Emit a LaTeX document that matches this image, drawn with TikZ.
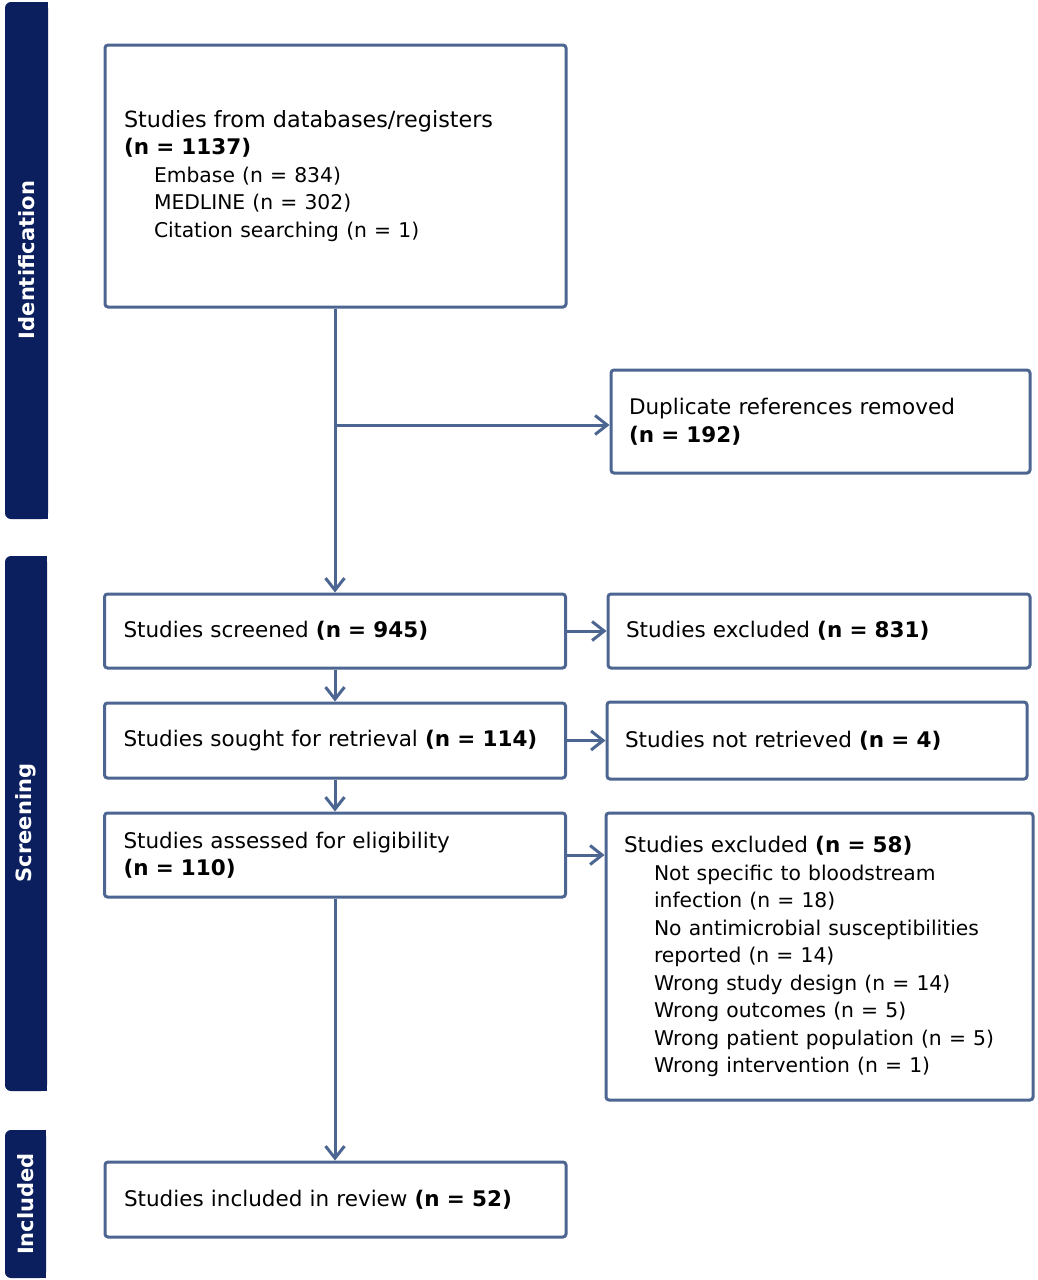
\documentclass[tikz,border=0pt]{standalone}
\usepackage{fontspec}
\setmainfont{DejaVu Sans}
\usetikzlibrary{arrows.meta,calc}
\definecolor{navy}{HTML}{0B1F5E}
\definecolor{boxc}{HTML}{4D6691}
\newcommand{\hdsz}{\fontsize{21.5}{27.5}\selectfont}
\newcommand{\subsz}{\fontsize{20.3}{27.5}\selectfont}
\newcommand{\mysubline}[1]{{\subsz\hspace*{30pt}#1}}
\begin{document}
\begin{tikzpicture}[x=1pt,y=-1pt,
  fbox/.style={draw=boxc, line width=3pt, rounded corners=3pt, inner xsep=19pt, inner ysep=0pt,
    align=left, font=\hdsz, anchor=center},
  arr/.style={draw=boxc, line width=3pt, -{Straight Barb[length=12pt,width=19pt]}},
  sidebar/.style={fill=navy},
  sidelabel/.style={text=white, font=\fontsize{21}{24}\selectfont\bfseries, rotate=90, anchor=center}
]
\useasboundingbox (0,0) rectangle (1037,1280);
\fill[white] (0,0) rectangle (1037,1280);

% side bars
\fill[sidebar, rounded corners=6pt] (5,2) rectangle (48,519);
\fill[sidebar] (30,2) rectangle (48,519);
\node[sidelabel] (lid) at (26.5,260) {Identification};
\fill[sidebar, rounded corners=6pt] (5,556) rectangle (47,1091);
\fill[sidebar] (30,556) rectangle (47,1091);
\node[sidelabel] (lsc) at (26,823) {Screening};
\fill[sidebar, rounded corners=6pt] (5,1130) rectangle (46,1278);
\fill[sidebar] (30,1130) rectangle (46,1278);
\node[sidelabel] (lin) at (25.5,1204) {Included};

% boxes
\node[fbox, minimum width=461pt, minimum height=262pt, text width=423pt] (id) at (335.5,176)
 {{\fontsize{22.3}{27.5}\selectfont Studies from databases/registers}\\ \textbf{(n = 1137)}\\
  \mysubline{Embase (n = 834)}\\ \mysubline{MEDLINE (n = 302)}\\ \mysubline{Citation searching (n = 1)}};
\node[fbox, minimum width=419pt, minimum height=103pt, text width=383pt, inner xsep=18pt] (dup) at (820.5,421.5)
 {Duplicate references removed\\ \textbf{(n = 192)}};
\node[fbox, minimum width=461pt, minimum height=74pt, text width=423pt] (scr) at (335,631)
 {Studies screened \textbf{(n = 945)}};
\node[fbox, minimum width=422pt, minimum height=74pt, text width=386pt, inner xsep=18pt] (ex1) at (819,631)
 {Studies excluded \textbf{(n = 831)}};
\node[fbox, minimum width=461pt, minimum height=75pt, text width=423pt] (sou) at (335,740.5)
 {Studies sought for retrieval \textbf{(n = 114)}};
\node[fbox, minimum width=420pt, minimum height=77pt, text width=384pt, inner xsep=18pt] (nre) at (817,740.5)
 {Studies not retrieved \textbf{(n = 4)}};
\node[fbox, minimum width=461pt, minimum height=84pt, text width=423pt] (ass) at (335,855)
 {Studies assessed for eligibility\\ \textbf{(n = 110)}};
\node[fbox, minimum width=427pt, minimum height=287pt, text width=391pt, inner xsep=18pt] (ex2) at (819.5,956.5)
 {Studies excluded \textbf{(n = 58)}\\
  \mysubline{Not specific to bloodstream}\\ \mysubline{infection (n = 18)}\\
  \mysubline{No antimicrobial susceptibilities}\\ \mysubline{reported (n = 14)}\\
  \mysubline{Wrong study design (n = 14)}\\ \mysubline{Wrong outcomes (n = 5)}\\
  \mysubline{Wrong patient population (n = 5)}\\ \mysubline{Wrong intervention (n = 1)}};
\node[fbox, minimum width=461pt, minimum height=75pt, text width=423pt] (inc) at (335.5,1199.5)
 {Studies included in review \textbf{(n = 52)}};

% connectors
\coordinate (j) at (335,425);
\draw[arr] (id.south -| scr.north) -- (scr.north);
\draw[arr] (j) -- (j -| dup.west);
\draw[arr] (scr.east) -- (ex1.west);
\draw[arr] (sou.east) -- (sou.east -| nre.west);
\draw[arr] (ass.east) -- (ass.east -| ex2.west);
\draw[arr] (scr.south) -- (sou.north);
\draw[arr] (sou.south) -- (ass.north);
\draw[arr] (ass.south) -- (ass.south |- inc.north);
\end{tikzpicture}
\end{document}
